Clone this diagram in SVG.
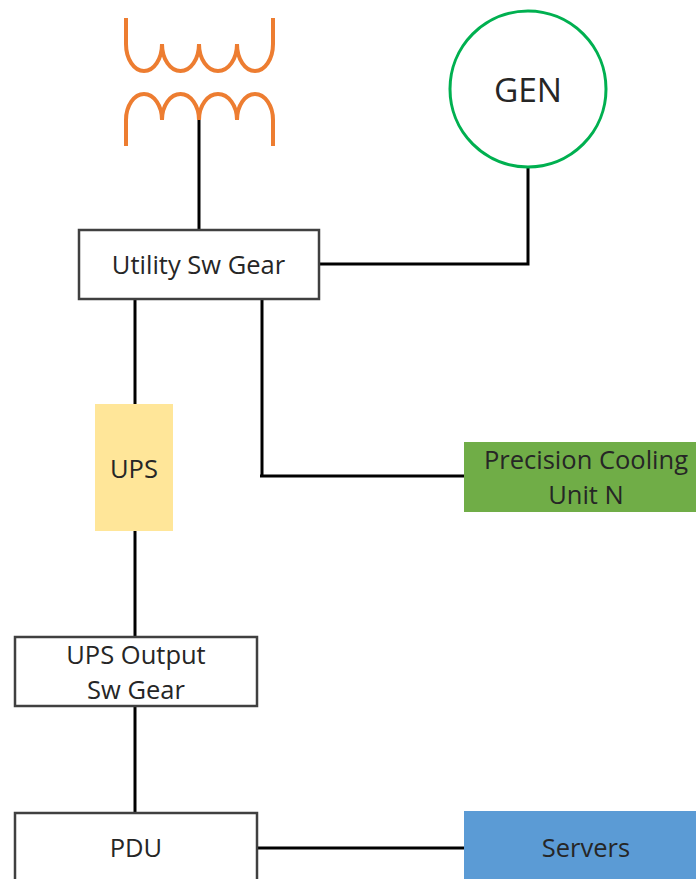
<svg xmlns="http://www.w3.org/2000/svg" width="696" height="879" viewBox="0 0 696 879">
<style>
.c{fill:none;stroke:#000;stroke-width:3}
.box{fill:#fff;stroke:#404040;stroke-width:2.5}
.coil{fill:none;stroke:#ed7d31;stroke-width:4}
text{font-family:"Open Sans","Noto Sans",sans-serif;font-size:25.5px;fill:#262626;text-anchor:middle}
</style>
<rect width="696" height="879" fill="#fff"/>
<g id="connectors">
<path class="c" d="M199 120V230"/>
<path class="c" d="M528 167V264H319"/>
<path class="c" d="M135 299V405"/>
<path class="c" d="M262 299V476"/>
<path class="c" d="M260 476H465"/>
<path class="c" d="M135 530V637"/>
<path class="c" d="M135 706V813"/>
<path class="c" d="M257 848H465"/>
</g>
<g id="transformer">
<path class="coil" d="M126 18V44A18 27 0 0 0 162 44A18.500 27 0 0 0 199 44A19 27 0 0 0 237 44A18 27 0 0 0 273 44V18"/>
<path class="coil" d="M126 146V120A18 26 0 0 1 162 120A18.500 26 0 0 1 199 120A19 26 0 0 1 237 120A18 26 0 0 1 273 120V146"/>
</g>
<g id="gen"><circle cx="528" cy="89" r="78" fill="#fff" stroke="#00b050" stroke-width="3"/><text x="528" y="102" style="font-size:33.500px">GEN</text></g>
<g id="utility"><rect class="box" x="79" y="230" width="240" height="69"/><text x="198.500" y="274">Utility Sw Gear</text></g>
<g id="ups"><rect x="95" y="404" width="78" height="127" fill="#ffe699"/><text x="134" y="478">UPS</text></g>
<g id="cooling"><rect x="464" y="442" width="232" height="70" fill="#70ad47"/><text x="586" y="469">Precision Cooling</text><text x="586" y="504">Unit N</text></g>
<g id="ups-output"><rect class="box" x="15" y="637" width="242" height="69"/><text x="136" y="664">UPS Output</text><text x="136" y="699">Sw Gear</text></g>
<g id="pdu"><rect class="box" x="15" y="813" width="242" height="70"/><text x="136" y="857">PDU</text></g>
<g id="servers"><rect x="464" y="811" width="232" height="68" fill="#5b9bd5"/><text x="586" y="857">Servers</text></g>
</svg>
